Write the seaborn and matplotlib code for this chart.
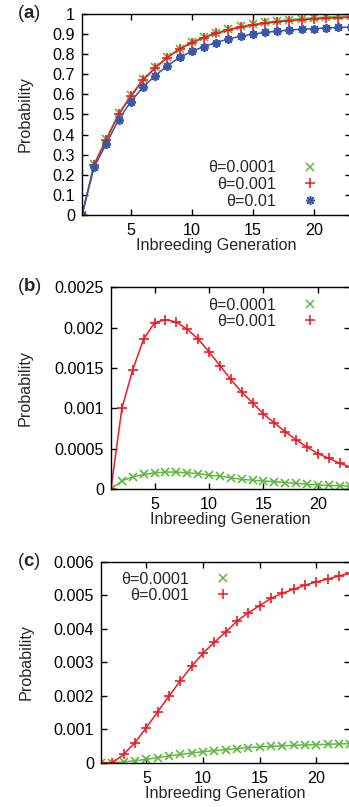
"""
Probability vs inbreeding generation, three stacked panels (a)-(c).
"""
import matplotlib
matplotlib.use("Agg")
import matplotlib.pyplot as plt
import seaborn as sns
from matplotlib.lines import Line2D

# data
gen = list(range(1, 24))

a_t0001 = [0, 0.255, 0.38, 0.505, 0.595, 0.675, 0.735, 0.787, 0.828, 0.86, 0.886,
           0.906, 0.924, 0.938, 0.949, 0.958, 0.966, 0.972, 0.977, 0.981, 0.985, 0.988, 0.99]
a_t001 = [0, 0.25, 0.375, 0.50, 0.59, 0.67, 0.731, 0.783, 0.825, 0.857, 0.883,
          0.903, 0.92, 0.934, 0.945, 0.954, 0.961, 0.967, 0.972, 0.975, 0.978, 0.981, 0.983]
a_t01 = [0, 0.24, 0.355, 0.475, 0.563, 0.637, 0.693, 0.743, 0.784, 0.814, 0.838,
         0.858, 0.876, 0.889, 0.9, 0.908, 0.915, 0.92, 0.924, 0.927, 0.93, 0.933, 0.935]

b_t0001 = [0, 0.0001, 0.00015, 0.00018, 0.0002, 0.00021, 0.00021, 0.0002, 0.00019,
           0.00017, 0.00016, 0.00014, 0.00012, 0.00011, 0.0001, 0.00009, 0.00008,
           0.00007, 0.00006, 0.00005, 0.000045, 0.00004, 0.000035]
b_t001 = [0, 0.001, 0.00148, 0.00186, 0.00206, 0.0021, 0.00207, 0.00198, 0.00186,
          0.0017, 0.00153, 0.00136, 0.0012, 0.00107, 0.00093, 0.00082, 0.00071,
          0.00061, 0.00052, 0.00044, 0.00038, 0.00032, 0.00027]

c_t0001 = [0, 0, 0.00002, 0.00006, 0.0001, 0.00015, 0.0002, 0.00025, 0.00029,
           0.00033, 0.00036, 0.00039, 0.00042, 0.00045, 0.00047, 0.00049, 0.0005,
           0.00052, 0.00053, 0.00054, 0.00055, 0.00056, 0.00057]
c_t001 = [0, 0, 0.00025, 0.0006, 0.00105, 0.00152, 0.00199, 0.00245, 0.00288,
          0.00327, 0.0036, 0.0039, 0.00423, 0.00448, 0.00469, 0.00491, 0.00506,
          0.00518, 0.0053, 0.0054, 0.00548, 0.00558, 0.00565]

yticks_a = [0, 0.1, 0.2, 0.3, 0.4, 0.5, 0.6, 0.7, 0.8, 0.9, 1]
ylabels_a = ['0', '0.1', '0.2', '0.3', '0.4', '0.5', '0.6', '0.7', '0.8', '0.9', '1']
yticks_b = [0, 0.0005, 0.001, 0.0015, 0.002, 0.0025]
ylabels_b = ['0', '0.0005', '0.001', '0.0015', '0.002', '0.0025']
yticks_c = [0, 0.001, 0.002, 0.003, 0.004, 0.005, 0.006]
ylabels_c = ['0', '0.001', '0.002', '0.003', '0.004', '0.005', '0.006']
xticks = [5, 10, 15, 20]

GREEN = '#5fb83f'
RED = '#ec1c24'
BLUE = '#3a56a6'
ASTER = (8, 2, 0)

sns.set_theme(style="ticks")
plt.rcParams['font.family'] = ['Liberation Sans', 'DejaVu Sans']
plt.rcParams['mathtext.fontset'] = 'custom'
plt.rcParams['mathtext.bf'] = 'Liberation Sans:bold'
plt.rcParams['mathtext.rm'] = 'Liberation Sans'

FS = 11.6
W, H = 349, 807
fig = plt.figure(figsize=(W / 100, H / 100), dpi=100)


def make_axes(left, top, bottom, right=350.5):
    return fig.add_axes([left / W, 1 - bottom / H, (right - left) / W, (bottom - top) / H])


def style_axes(ax, yticks, ylabels, ylim, ylab_x):
    ax.set_xlim(1, 23)
    ax.set_ylim(*ylim)
    ax.set_xticks(xticks)
    ax.set_xticklabels([str(t) for t in xticks])
    ax.set_yticks(yticks)
    ax.set_yticklabels(ylabels)
    ax.tick_params(axis='both', direction='in', length=4.5, width=1.0,
                   labelsize=FS, colors='black')
    ax.tick_params(axis='x', top=True, pad=6)
    ax.tick_params(axis='y', right=True, pad=5)
    for s in ax.spines.values():
        s.set_linewidth(1.0)
        s.set_color('black')
    ax.set_xlabel('Inbreeding Generation', fontsize=FS, labelpad=0)
    ax.set_ylabel('Probability', fontsize=FS)
    ax.yaxis.set_label_coords(ylab_x, 0.5)


def series(ax, y, color, marker, ms=5.5, mew=1.2):
    sns.lineplot(x=gen, y=y, ax=ax, color=color, marker=marker, markersize=ms,
                 markeredgewidth=mew, markeredgecolor=color, linewidth=1.1,
                 legend=False)


def add_legend(ax, items, anchor):
    handles = [Line2D([], [], ls='none', marker=m, color=c, markersize=ms,
                      markeredgewidth=1.1) for c, m, ms, _ in items]
    labels = [lab for _, _, _, lab in items]
    ax.legend(handles, labels, loc='upper right',
              bbox_to_anchor=(anchor[0] / W, 1 - anchor[1] / H),
              bbox_transform=fig.transFigure, frameon=False, markerfirst=False,
              fontsize=FS, handlelength=1.0, handletextpad=1.6, labelspacing=0.1,
              borderpad=0, borderaxespad=0)


# (a)
ax1 = make_axes(82, 14, 215)
series(ax1, a_t0001, GREEN, 'x')
series(ax1, a_t001, RED, '+', ms=6.5)
series(ax1, a_t01, BLUE, ASTER, ms=6.5, mew=1.3)
style_axes(ax1, yticks_a, ylabels_a, (0, 1), (33 - 82) / 268.5)
add_legend(ax1, [(GREEN, 'x', 5.5, 'θ=0.0001'), (RED, '+', 6.5, 'θ=0.001'),
                 (BLUE, ASTER, 6.5, 'θ=0.01')], (318, 160.5))

# (b)
ax2 = make_axes(111, 287.3, 489)
series(ax2, b_t0001, GREEN, 'x')
series(ax2, b_t001, RED, '+', ms=6.5)
style_axes(ax2, yticks_b, ylabels_b, (0, 0.0025), (33 - 111) / 239.5)
add_legend(ax2, [(GREEN, 'x', 5.5, 'θ=0.0001'), (RED, '+', 6.5, 'θ=0.001')],
           (318, 297.5))

# (c)
ax3 = make_axes(101, 561.7, 762.7)
series(ax3, c_t0001, GREEN, 'x')
series(ax3, c_t001, RED, '+', ms=6.5)
style_axes(ax3, yticks_c, ylabels_c, (0, 0.006), (34 - 101) / 249.5)
add_legend(ax3, [(GREEN, 'x', 5.5, 'θ=0.0001'), (RED, '+', 6.5, 'θ=0.001')],
           (231, 571.5))

# panel letters
for letter, y in [('a', 14), ('b', 286.7), ('c', 561.7)]:
    fig.text(17 / W, 1 - y / H, '($\\mathbf{' + letter + '}$)', fontsize=13.5,
             ha='left', va='center')

fig.savefig('out.png', dpi=100)
